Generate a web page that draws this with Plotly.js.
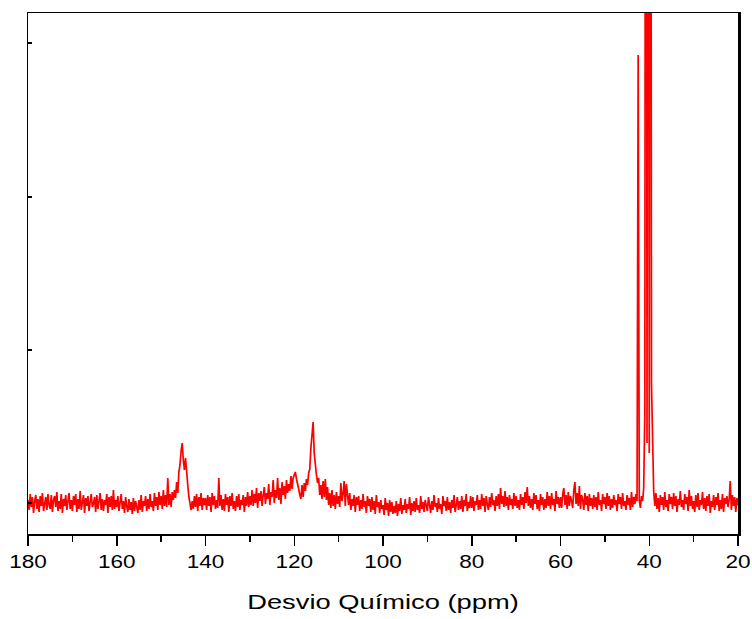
<!DOCTYPE html>
<html>
<head>
<meta charset="utf-8">
<script src="https://cdn.plot.ly/plotly-3.0.1.min.js"></script>
<style>html,body{margin:0;padding:0;background:#fff;}#chart{width:752px;height:619px;}</style>
</head>
<body>
<div id="chart"></div>
<script>
// 13C NMR spectrum, intensity (arbitrary units, baseline ~ 0)
// sampled every 0.25 ppm, from 180 ppm down to 20 ppm
var ppmStart = 180;
var ppmStep = 0.25;

// 180 -> 160.25 ppm
var seg180_160 = [
  3,-7,9,-4,6,-10,2,8,-6,4,-9,7,-3,10,-8,1,6,-7,9,-2,
  -6,8,-9,3,7,-4,11,-8,2,-6,9,-10,4,-3,8,-7,1,10,-6,3,
  -8,7,-2,9,-9,4,-6,12,-7,2,8,-10,5,-3,7,-8,3,9,-4,-1,
  6,-9,8,-6,2,10,-7,4,-8,3,-2,9,-10,6,-4,7,-7,13,-6,3
];
// 160 -> 140.25 ppm (peak ~145 ppm)
var seg160_140 = [
  -4,7,-8,3,9,-6,2,-10,6,-3,
  -9,4,-7,1,-11,5,-8,2,-4,-10,
  3,-7,8,-9,2,-3,7,-8,4,-6,
  9,-4,2,-8,10,-3,6,-7,11,-2,
  7,-6,13,-3,8,-4,25,-2,9,-4,
  11,3,13,5,21,10,31,38,52,60,
  43,33,45,28,18,6,-3,-7,2,-6,
  7,-4,9,-8,6,-3,10,-7,5,-2
];
// 140 -> 120.25 ppm
var seg140_120 = [
  5,-7,8,-3,6,-9,10,-2,7,-6,
  3,-5,25,-3,8,-7,4,-8,9,-2,
  6,-9,7,-3,10,-6,2,-8,7,-4,
  9,-7,3,-2,8,-9,6,-3,11,-4,
  7,-2,13,-3,9,0,15,-5,10,2,
  12,-3,8,16,-1,10,4,19,-2,11,
  6,23,0,13,5,25,3,15,-1,21,
  8,17,4,23,10,19,12,27,14,25
];
// 120 -> 100.25 ppm (peak ~116 ppm)
var seg120_100 = [
  28,31,24,20,14,8,4,18,6,20,
  12,24,18,30,34,55,70,81,50,35,
  28,20,25,8,18,4,22,6,24,3,
  16,-2,10,-5,13,-3,8,-6,11,-1,
  7,-4,20,2,9,22,-3,19,5,-2,
  10,-7,4,-3,8,-9,6,-2,7,-8,
  3,-6,9,-4,2,-10,7,-3,4,-9,
  6,-7,2,-11,8,-4,1,-10,3,-6
];
// 100 -> 80.25 ppm
var seg100_80 = [
  -2,-12,5,-7,0,-13,3,-9,1,-11,
  -3,-10,2,-13,-1,-8,5,-11,-2,-7,
  4,-10,-1,-6,6,-12,0,-8,2,-9,
  5,-7,-2,-10,7,-6,1,-9,3,-5,
  -8,6,-3,-10,2,-7,8,-4,0,-9,
  5,-6,-1,-11,7,-3,2,-8,6,-7,
  1,-10,3,-5,8,-9,-2,6,-7,2,
  -6,7,-9,3,-3,9,-8,1,-5,7
];
// 80 -> 60.25 ppm
var seg80_60 = [
  -5,6,-8,2,-2,8,-7,3,-6,9,
  -3,5,-9,7,-1,-7,6,-4,10,-2,
  3,-8,7,-3,9,-6,15,-1,7,-4,
  12,-3,6,-7,8,-2,4,-6,10,-3,
  7,-5,3,-7,9,-2,6,-6,11,0,
  16,-3,7,-5,4,-7,10,-1,8,-6,
  3,-8,9,-2,6,-7,4,-5,11,-3,
  7,-6,10,-2,4,-8,12,-1,6,-5
];
// 60 -> 40.25 ppm (spike ~42.5, solvent multiplet ~40)
var seg60_40 = [
  6,-5,9,15,-2,8,-6,11,-3,7,
  2,-5,13,21,-1,10,-3,17,-6,8,
  3,-7,10,-2,7,-8,9,-3,5,-6,
  8,-4,6,-7,11,-2,3,-8,9,-1,
  6,-6,10,-3,7,-7,4,-5,8,-2,
  3,-8,9,-1,6,-6,10,-3,2,-7,
  8,-2,5,-7,11,-4,6,-1,9,2,
  448,3,-5,7,2,15,90,1500,60,1500
];
// 40 -> 20 ppm
var seg40_20 = [
  50,1500,120,40,12,-3,10,-6,5,-9,
  8,-2,6,-7,11,-4,3,-8,9,-1,
  6,-6,10,-3,7,-9,4,-2,12,-4,
  3,-7,9,-1,6,-8,13,-3,7,-6,
  2,-9,8,-4,10,-7,3,-2,11,-6,
  5,-8,7,-3,9,-10,2,-4,8,-7,
  6,-2,10,-8,3,-6,9,-9,5,-1,
  7,-4,3,22,-7,8,-3,6,-9,5,-2
];

var xTickVals = [180,160,140,120,100,80,60,40,20];
var xTickText = ['180','160','140','120','100','80','60','40','20'];
var yTickVals = [0,153,306,460];

var intensity = [].concat(seg180_160, seg160_140, seg140_120, seg120_100,
                          seg100_80, seg80_60, seg60_40, seg40_20);
var ppm = intensity.map(function(_, i){ return ppmStart - ppmStep * i; });

var trace = {
  x: ppm, y: intensity, type: 'scatter', mode: 'lines',
  line: {color: '#ff0000', width: 1.7},
  hoverinfo: 'skip'
};
var trace2 = {x: [ppm[0]], y: [intensity[0]], yaxis: 'y2', type: 'scatter', mode: 'lines',
  line: {color: 'rgba(0,0,0,0)'}, showlegend: false, hoverinfo: 'skip'};

var FONT = 'Liberation Sans, Arial, sans-serif';
var layout = {
  width: 752, height: 619,
  margin: {l: 28, r: 14, t: 13, b: 85},
  paper_bgcolor: '#fff', plot_bgcolor: '#fff',
  showlegend: false,
  font: {family: FONT, color: '#000'},
  xaxis: {
    range: [180, 20], autorange: false,
    tickvals: xTickVals, ticktext: xTickText,
    ticks: 'outside', ticklen: 10, tickwidth: 1.5, tickcolor: '#000',
    minor: {dtick: 10, tick0: 20, ticks: 'outside', ticklen: 6, tickwidth: 1.5, tickcolor: '#000', showgrid: false},
    showline: true, linecolor: '#000', linewidth: 1.5, mirror: true,
    showgrid: false, zeroline: false,
    tickfont: {size: 18.5, family: FONT},
    title: {text: 'Desvio Químico (ppm)', font: {size: 21, family: FONT}, standoff: 23}
  },
  yaxis: {
    range: [-31, 490], autorange: false,
    tickvals: yTickVals, showticklabels: false,
    ticks: 'inside', ticklen: 4, tickwidth: 1.5, tickcolor: '#000',
    showline: true, linecolor: '#000', linewidth: 1.5, mirror: false,
    showgrid: false, zeroline: false
  },
  yaxis2: {
    overlaying: 'y', side: 'right', range: [-31, 490],
    showticklabels: false, ticks: '', showline: true, linecolor: '#000', linewidth: 2.5,
    showgrid: false, zeroline: false
  }
};

Plotly.newPlot('chart', [trace, trace2], layout, {displayModeBar: false, staticPlot: true}).then(function(gd){
  // the reference text is drawn horizontally wider than the font's natural width
  function stretch(el, f){
    try {
      var w = el.getComputedTextLength();
      if (w > 0) { el.setAttribute('textLength', (w * f).toFixed(1)); el.setAttribute('lengthAdjust', 'spacingAndGlyphs'); }
    } catch(e) {}
  }
  gd.querySelectorAll('.xtick text').forEach(function(t){ stretch(t, 1.22); });
  gd.querySelectorAll('.xtitle').forEach(function(t){ stretch(t, 1.3); });
});
</script>
</body>
</html>
